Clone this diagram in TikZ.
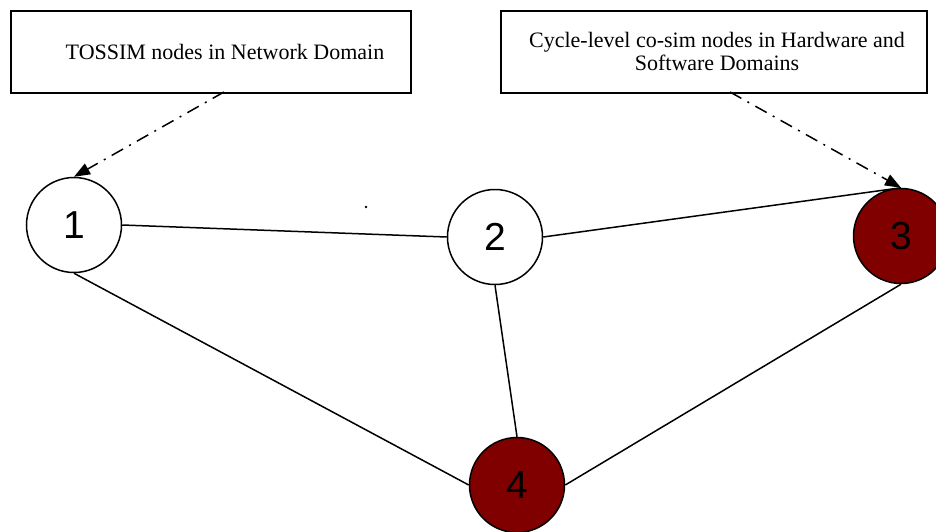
\documentclass[tikz,border=0pt]{standalone}
\usepackage{fontspec}
\setmainfont{Liberation Serif}
\newfontfamily\digitfont{Liberation Sans}
\usetikzlibrary{arrows.meta}
\definecolor{nodered}{RGB}{128,0,0}
\begin{document}
\begin{tikzpicture}[x=1pt,y=-1pt,
  labelbox/.style={draw,line width=1.5pt,inner sep=0pt,anchor=north west},
  boxtext/.style={font=\fontsize{22}{24}\selectfont,inner sep=0pt,anchor=base,align=center},
  simnode/.style={circle,draw,line width=1.5pt,minimum size=95pt,inner sep=0pt,
    font=\digitfont\fontsize{39}{39}\selectfont},
  hwnode/.style={simnode,fill=nodered},
  link/.style={line width=1.5pt},
  pointer/.style={line width=1.5pt,dash pattern=on 13pt off 7pt on 2pt off 7pt,
    -{Triangle[length=16pt,width=12pt]}}]
\useasboundingbox (0,0) rectangle (936,531);

% caption boxes
\node[labelbox,minimum width=400pt,minimum height=82pt] (netbox) at (10,10) {};
\node[boxtext] (nettext) at (225,59) {TOSSIM nodes in Network Domain};
\node[labelbox,minimum width=426pt,minimum height=82pt] (cobox) at (500,10) {};
\node[boxtext] (cotext1) at (717,47) {Cycle-level co-sim nodes in Hardware and};
\node[boxtext] (cotext2) at (717,70) {Software Domains};

% simulated nodes
\node[simnode] (n1) at (74,225) {1};
\node[simnode] (n2) at (495,237) {2};
\node[hwnode] (n3) at (901,236) {3};
\node[hwnode] (n4) at (517,485) {4};

% stray mark
\fill (366,207) circle (1.3pt);

% links between nodes
\draw[link] (n1.east) -- (n2.west);
\draw[link] (n2.east) -- (n3.north);
\draw[link] (n1.south) -- (n4.west);
\draw[link] (n2.south) -- (n4.north);
\draw[link] (n3.south) -- (n4.east);

% pointers from the captions
\coordinate (netfoot) at (224,92);
\coordinate (cofoot) at (730,92);
\draw[pointer] (netfoot) -- (n1.north);
\draw[pointer] (cofoot) -- (n3.north);
\end{tikzpicture}
\end{document}
